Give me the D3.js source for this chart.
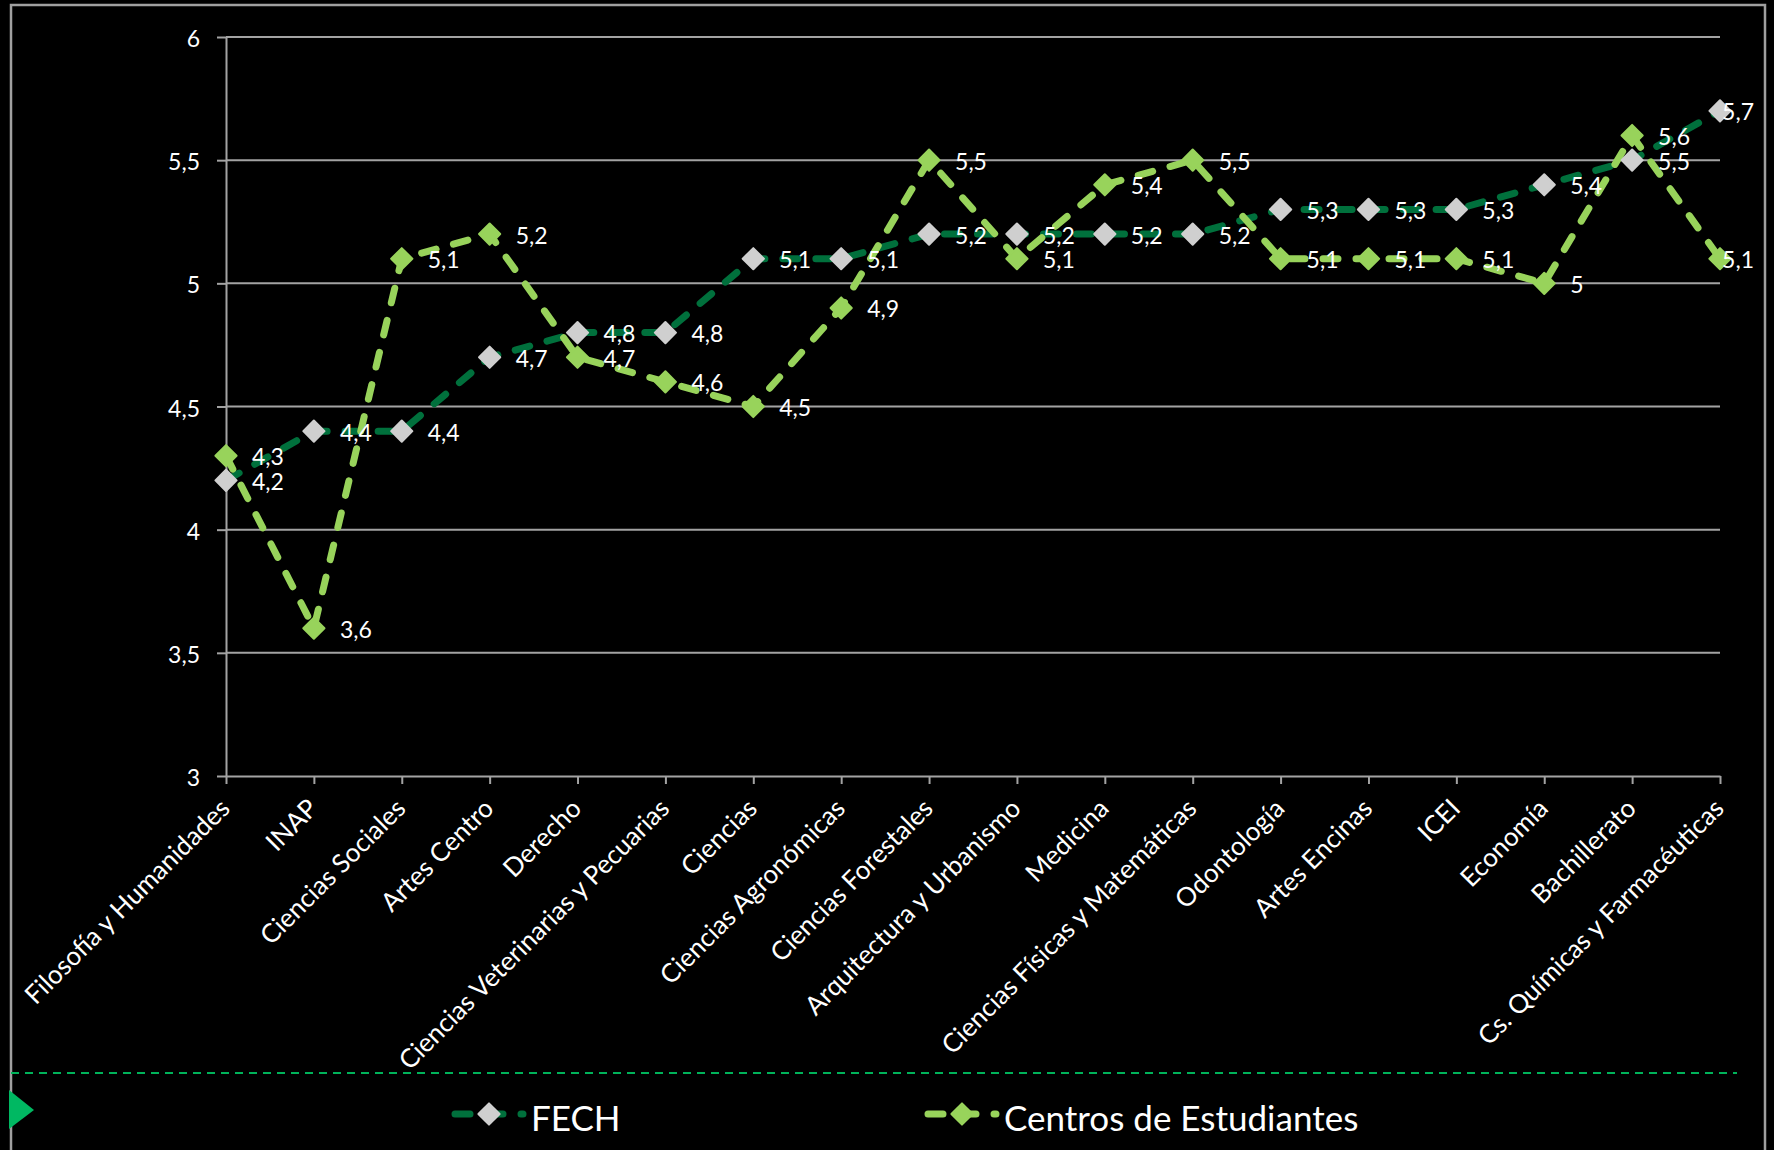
<!DOCTYPE html>
<html>
<head>
<meta charset="utf-8">
<script src="https://cdn.jsdelivr.net/npm/d3@7"></script>
<style>
  html, body { margin: 0; padding: 0; background: #000; }
  svg { display: block; }
  text { font-family: Lato, "Open Sans", sans-serif; fill: #fff; }
</style>
</head>
<body>
<svg id="chart" width="1774" height="1150"></svg>
<script>
const categories = [
  "Filosofía y Humanidades", "INAP", "Ciencias Sociales", "Artes Centro", "Derecho",
  "Ciencias Veterinarias y Pecuarias", "Ciencias", "Ciencias Agronómicas", "Ciencias Forestales",
  "Arquitectura y Urbanismo", "Medicina", "Ciencias Físicas y Matemáticas", "Odontología",
  "Artes Encinas", "ICEI", "Economía", "Bachillerato", "Cs. Químicas y Farmacéuticas"
];
const fechValues    = [4.2, 4.4, 4.4, 4.7, 4.8, 4.8, 5.1, 5.1, 5.2, 5.2, 5.2, 5.2, 5.3, 5.3, 5.3, 5.4, 5.5, 5.7];
const centrosValues = [4.3, 3.6, 5.1, 5.2, 4.7, 4.6, 4.5, 4.9, 5.5, 5.1, 5.4, 5.5, 5.1, 5.1, 5.1, 5.0, 5.6, 5.1];
const yTickValues   = [3, 3.5, 4, 4.5, 5, 5.5, 6];
const seriesNames   = ["FECH", "Centros de Estudiantes"];

(function () {
const fmt = v => String(v).replace(".", ",");

const svg = d3.select("#chart");
const W = 1774, H = 1150;
svg.append("rect").attr("width", W).attr("height", H).attr("fill", "#000");

const pL = 226, pR = 1720, pT = 37, pB = 776;
const x = d3.scalePoint().domain(categories).range([pL, pR]).padding(0);
const y = d3.scaleLinear().domain([3, 6]).range([pB, pT]);

const gridColor = "#a3a3a3";
const fechLine = "#00703c", fechMarker = "#cfcfcf";
const centrosColor = "#98d35b";

// frame
svg.append("path")
  .attr("d", "M11,1150 V5 H1765 V1150")
  .attr("fill", "none").attr("stroke", "#a0a0a0").attr("stroke-width", 2.5);

// gridlines
svg.append("g").selectAll("line").data(yTickValues.filter(v => v > 3)).join("line")
  .attr("x1", pL).attr("x2", pR)
  .attr("y1", d => y(d)).attr("y2", d => y(d))
  .attr("stroke", gridColor).attr("stroke-width", 2);

// y axis
const yAxis = svg.append("g").attr("transform", `translate(${pL},0)`)
  .call(d3.axisLeft(y).tickValues(yTickValues).tickSizeInner(9).tickSizeOuter(0).tickFormat(fmt));
yAxis.select(".domain").attr("stroke", gridColor).attr("stroke-width", 2);
yAxis.selectAll(".tick line").attr("stroke", gridColor).attr("stroke-width", 2);
yAxis.selectAll(".tick text")
  .attr("x", -26).attr("dy", null).attr("y", 9.5)
  .attr("font-size", 23).attr("fill", "#fff").attr("font-family", "Lato, sans-serif");

// x axis
const xAxis = svg.append("g").attr("transform", `translate(0,${pB})`)
  .call(d3.axisBottom(x).tickSizeInner(8).tickSizeOuter(0));
xAxis.select(".domain").attr("stroke", gridColor).attr("stroke-width", 2);
xAxis.selectAll(".tick line").attr("stroke", gridColor).attr("stroke-width", 2);
xAxis.selectAll(".tick text")
  .attr("y", 0).attr("dy", null)
  .attr("transform", "translate(5,34) rotate(-45)")
  .attr("text-anchor", "end")
  .attr("font-size", 26).attr("fill", "#fff").attr("font-family", "Lato, sans-serif");

// lines
const lineGen = d3.line().x((d, i) => x(categories[i])).y(d => y(d));
const dash = "15,18";
svg.append("path").datum(fechValues).attr("d", lineGen)
  .attr("fill", "none").attr("stroke", fechLine).attr("stroke-width", 7)
  .attr("stroke-dasharray", dash).attr("stroke-linecap", "round").attr("stroke-linejoin", "round");
svg.append("path").datum(centrosValues).attr("d", lineGen)
  .attr("fill", "none").attr("stroke", centrosColor).attr("stroke-width", 7)
  .attr("stroke-dasharray", dash).attr("stroke-linecap", "round").attr("stroke-linejoin", "round");

// markers
const diamond = d3.symbol().type(d3.symbolSquare).size(225);
function markers(vals, fill) {
  svg.append("g").selectAll("path").data(vals).join("path")
    .attr("d", diamond)
    .attr("transform", (d, i) => `translate(${x(categories[i])},${y(d)}) rotate(45)`)
    .attr("fill", fill).attr("stroke", fill).attr("stroke-width", 2).attr("stroke-linejoin", "round");
}
markers(fechValues, fechMarker);
markers(centrosValues, centrosColor);

// data labels
const labelLimit = 1754;
function labels(vals) {
  const g = svg.append("g");
  vals.forEach((v, i) => {
    const px = x(categories[i]), py = y(v);
    const t = g.append("text").text(fmt(v))
      .attr("font-size", 23).attr("y", py + 9.5);
    const w = t.node().getComputedTextLength();
    t.attr("x", Math.min(px + 26, labelLimit - w));
  });
}
labels(fechValues);
labels(centrosValues);

// separator + triangle
svg.append("line").attr("x1", 11).attr("x2", 1737).attr("y1", 1073).attr("y2", 1073)
  .attr("stroke", "#00b35a").attr("stroke-width", 2).attr("stroke-dasharray", "8,6");
svg.append("path").attr("d", "M9,1090 L34,1110 L9,1129 Z").attr("fill", "#00b862");

// legend
const legend = [
  { name: seriesNames[0], line: fechLine, marker: fechMarker, x0: 455 },
  { name: seriesNames[1], line: centrosColor, marker: centrosColor, x0: 928 }
];
const ly = 1114;
legend.forEach(l => {
  const g = svg.append("g");
  g.append("line").attr("x1", l.x0).attr("x2", l.x0 + 68).attr("y1", ly).attr("y2", ly)
    .attr("stroke", l.line).attr("stroke-width", 7).attr("stroke-dasharray", dash).attr("stroke-linecap", "round");
  g.append("path").attr("d", diamond)
    .attr("transform", `translate(${l.x0 + 34},${ly}) rotate(45)`)
    .attr("fill", l.marker).attr("stroke", l.marker).attr("stroke-width", 2).attr("stroke-linejoin", "round");
  g.append("text").text(l.name).attr("x", l.x0 + 76).attr("y", ly + 17).attr("font-size", 35);
});
})();
</script>
</body>
</html>
